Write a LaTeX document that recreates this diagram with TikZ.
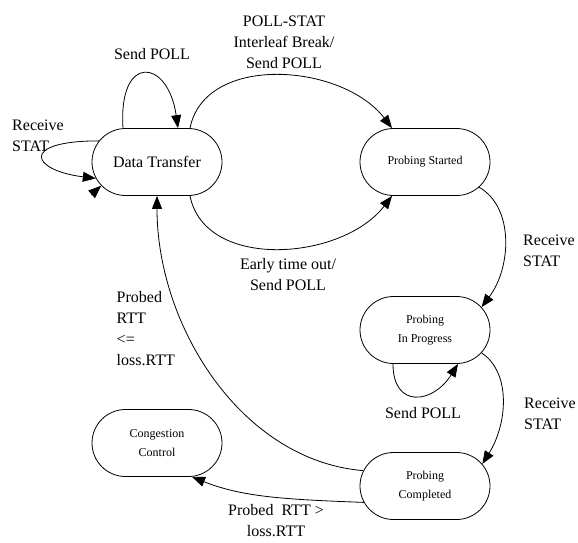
\documentclass[tikz,border=0pt]{standalone}
\usepackage{fontspec}
\setmainfont{Liberation Serif}
\usetikzlibrary{arrows.meta,shapes.misc}

\begin{document}
\begin{tikzpicture}[x=1pt,y=-1pt, line width=0.8pt,
  >={Triangle[length=13pt,width=10pt]},
  estado/.style={draw, rounded rectangle, minimum width=134pt, minimum height=67pt,
    inner sep=2pt, align=center, font=\fontsize{12}{19}\selectfont},
  etiqueta/.style={align=center, font=\fontsize{16}{21}\selectfont}]
  \useasboundingbox (0,0) rectangle (578,542);

  % Estados
  \node[estado, font=\fontsize{16}{19}\selectfont] (transfer) at (157,162) {Data Transfer};
  \node[estado] (started)    at (425,162) {Probing Started};
  \node[estado] (progress)   at (425,330) {Probing\\In Progress};
  \node[estado] (completed)  at (425,486) {Probing\\Completed};
  \node[estado] (congestion) at (157,443) {Congestion\\Control};

  % Lazos de Data Transfer
  \draw[->] ([xshift=-34pt]transfer.north) .. controls +(-5,-75) and +(-10,-70) .. ([xshift=21pt]transfer.north);
  \node[etiqueta] (sendpoll) at (152,54) {Send POLL};
  \draw[->] (transfer.160) .. controls +(-80,0) and +(-65,-8) .. (transfer.195);
  \node[etiqueta, align=left] (recvstat) at (38,136) {Receive\\STAT};
  \coordinate (suelto) at ([shift={(-10,9)}]transfer.203);
  \draw[->] (suelto) -- (transfer.203);

  % Transiciones hacia Probing Started
  \draw[->] ([xshift=33pt]transfer.north) .. controls +(15,-75) and +(-50,-65) .. ([xshift=-33pt]started.north);
  \node[etiqueta] (pollstat) at (284,42) {POLL-STAT\\Interleaf Break/\\Send POLL};
  \draw[->] ([xshift=33pt]transfer.south) .. controls +(15,75) and +(-50,65) .. ([xshift=-33pt]started.south);
  \node[etiqueta] (early) at (288,275) {Early time out/\\Send POLL};

  % Recepciones de STAT
  \draw[->] (started.-25) .. controls +(35,20) and +(30,-40) .. (progress.22);
  \node[etiqueta, align=left] (recv1) at (549,251) {Receive\\STAT};
  \draw[->] (progress.-22) .. controls +(30,20) and +(25,-40) .. (completed.21);
  \node[etiqueta, align=left] (recv2) at (550,414) {Receive\\STAT};

  % Lazo de Probing In Progress
  \draw[->] ([xshift=-32pt]progress.south) .. controls +(0,45) and +(-25,40) .. ([xshift=33pt]progress.south);
  \node[etiqueta] (sendpoll2) at (423,413) {Send POLL};

  % Salidas de Probing Completed
  \draw[->] (completed.166) .. controls +(-122,-10) and +(0,130) .. (transfer.south);
  \node[etiqueta, align=left, anchor=west] (rttle) at (113,329) {Probed\\RTT\\<=\\loss.RTT};
  \draw[->] (completed.195) .. controls +(-80,-3) and +(50,20) .. ([xshift=35pt]congestion.south);
  \node[etiqueta] (rttgt) at (276,521) {Probed\ \ RTT >\\loss.RTT};

\end{tikzpicture}
\end{document}
